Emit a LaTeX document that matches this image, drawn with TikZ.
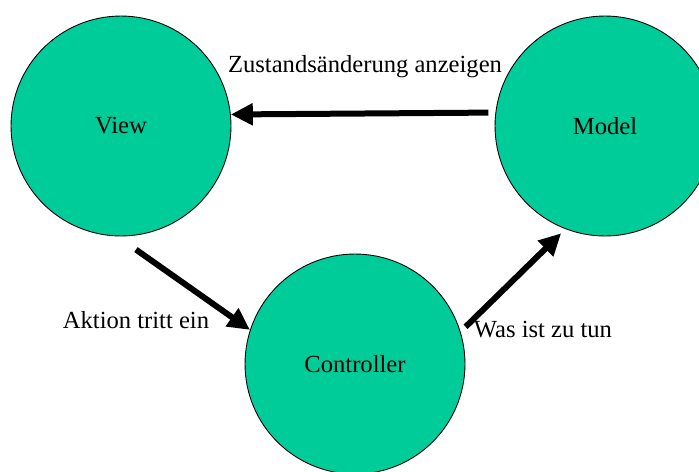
\documentclass[tikz,border=0pt]{standalone}
\usepackage{fontspec}
\setmainfont{Liberation Serif}
\usepackage{tikz}
\usetikzlibrary{arrows.meta}
\definecolor{kreisgruen}{RGB}{0,204,153}

\begin{document}
\begin{tikzpicture}[x=0.02cm, y=-0.02cm,
    kreis/.style={circle, draw=black, line width=0.5pt, fill=kreisgruen, minimum size=4.4cm, inner sep=0pt, font=\fontsize{14}{16}\selectfont},
    pfeil/.style={line width=0.12cm, -{Triangle[length=0.44cm, width=0.42cm]}},
    beschrift/.style={font=\fontsize{14}{16}\selectfont}]
    \useasboundingbox (0,0) rectangle (699,471);
    % Kreise
    \node[kreis] (view) at (121,126) {View};
    \node[kreis] (model) at (605,126) {Model};
    \node[kreis] (ctrl) at (355,364) {Controller};
    % Pfeile
    \draw[pfeil, shorten <=0.14cm] (model.173) -- (view.6);
    \draw[pfeil, shorten <=0.46cm] (view.-92) -- (ctrl.162);
    \draw[pfeil, shorten <=0.14cm, shorten >=0.12cm] (ctrl.17) -- (model.249);
    % Beschriftung
    \node[beschrift] (zustand) at (365,67) {Zustandsänderung anzeigen};
    \node[beschrift] (aktion) at (136,320) {Aktion tritt ein};
    \node[beschrift] (wasist) at (543,330) {Was ist zu tun};
\end{tikzpicture}
\end{document}
